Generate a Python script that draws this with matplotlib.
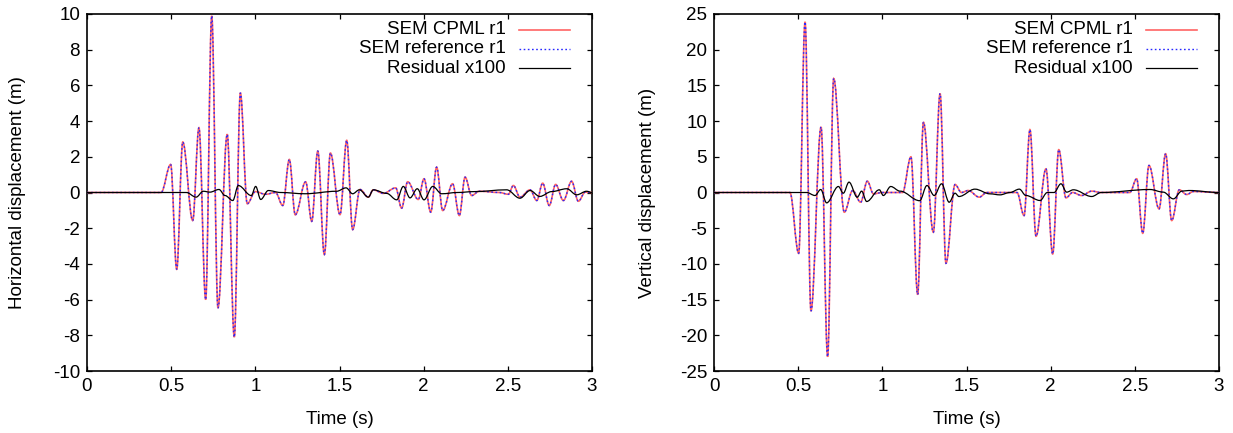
import matplotlib
matplotlib.use("Agg")
import matplotlib.pyplot as plt
from matplotlib.path import Path
from matplotlib.patches import PathPatch
from matplotlib.lines import Line2D
from matplotlib.ticker import FuncFormatter, MultipleLocator

plt.rcParams['font.family'] = ['Liberation Sans', 'DejaVu Sans']
plt.rcParams['axes.unicode_minus'] = False

# ---- data: extrema (time s, displacement m) ----
h_sem_t = [0, 0.44, 0.497, 0.533, 0.569, 0.628, 0.665, 0.705, 0.741, 0.778, 0.833, 0.875,
           0.911, 0.952, 1.00, 1.06, 1.12, 1.163, 1.202, 1.237, 1.299, 1.335, 1.371, 1.41,
           1.446, 1.503, 1.543, 1.578, 1.622, 1.671, 1.701, 1.76, 1.834, 1.869, 1.905, 1.968,
           2.002, 2.042, 2.077, 2.113, 2.172, 2.212, 2.246, 2.285, 2.33, 2.45, 2.503, 2.533,
           2.572, 2.632, 2.672, 2.707, 2.746, 2.784, 2.83, 2.879, 2.919, 2.96, 3.0]
h_sem_v = [0, 0, 1.57, -4.3, 2.83, -1.57, 3.63, -6.0, 9.9, -6.47, 3.26, -8.1,
           5.58, -0.63, 0.05, -0.1, 0.0, -0.73, 1.85, -1.25, 0.6, -1.62, 2.32, -3.48,
           2.21, -1.24, 2.92, -2.08, 0.17, -0.26, 0.15, -0.05, 0.26, -0.88, 0.6, -0.39,
           0.77, -1.1, 1.42, -1.01, 0.49, -1.29, 0.86, -0.17, 0.07, 0.0, -0.1, 0.39,
           -0.26, 0.15, -0.45, 0.52, -0.73, 0.45, -0.45, 0.63, -0.49, 0.02, 0.0]

h_res_t = [0, 0.59, 0.648, 0.691, 0.73, 0.784, 0.82, 0.866, 0.899, 0.976, 1.002, 1.032,
           1.077, 1.15, 1.295, 1.483, 1.539, 1.578, 1.618, 1.671, 1.701, 1.78, 1.84, 1.879,
           1.919, 1.962, 2.002, 2.054, 2.107, 2.2, 2.3, 2.493, 2.572, 2.632, 2.69, 2.76,
           2.85, 2.909, 2.968, 3.0]
h_res_v = [0, 0, -0.26, 0.07, 0.02, 0.17, -0.17, -0.45, 0.39, -0.17, 0.34, -0.39,
           0.11, 0.0, -0.07, 0.07, 0.26, -0.07, 0.15, -0.26, 0.15, -0.05, -0.41, 0.34,
           -0.3, 0.21, -0.41, 0.34, -0.07, 0.0, 0.05, 0.15, -0.32, 0.11, -0.22, 0.05,
           0.21, -0.13, 0.07, 0.0]

v_sem_t = [0, 0.451, 0.503, 0.541, 0.576, 0.636, 0.675, 0.711, 0.774, 0.824, 0.871, 0.911,
           0.947, 1.0, 1.12, 1.170, 1.210, 1.244, 1.303, 1.343, 1.378, 1.432, 1.47, 1.51,
           1.576, 1.62, 1.80, 1.842, 1.877, 1.913, 1.972, 2.012, 2.048, 2.091, 2.13, 2.184,
           2.244, 2.3, 2.47, 2.511, 2.547, 2.584, 2.644, 2.683, 2.719, 2.764, 2.808, 2.848,
           3.0]
v_sem_v = [0, 0, -8.52, 23.9, -16.6, 9.17, -23.0, 15.97, -2.76, 0.28, -1.36, 1.59,
           -0.19, 0.0, 0.0, 5.0, -14.3, 9.85, -5.57, 13.86, -9.92, 1.12, 0.0, 0.28,
           -0.65, 0.0, 0.0, -3.23, 8.8, -6.13, 3.32, -8.61, 6.0, -0.75, 0.0, -0.42,
           0.19, 0.0, 0.0, 1.92, -5.71, 3.79, -2.29, 5.43, -3.93, 0.38, -0.28, 0.14,
           0.0]

v_res_t = [0, 0.55, 0.60, 0.634, 0.669, 0.739, 0.768, 0.802, 0.851, 0.877, 0.907, 0.982,
           1.006, 1.05, 1.105, 1.222, 1.265, 1.308, 1.352, 1.397, 1.432, 1.455, 1.55, 1.64,
           1.699, 1.758, 1.814, 1.853, 1.937, 1.98, 2.02, 2.061, 2.095, 2.135, 2.244, 2.3,
           2.59, 2.669, 2.729, 2.779, 2.82, 3.0]
v_res_v = [0, 0, -0.42, 0.42, -1.45, 0.84, -0.1, 1.45, -0.66, 0.19, -1.26, 0.38,
           -0.42, 0.84, 0.19, -1.15, 0.98, -0.42, 1.22, -1.36, -0.1, -0.56, 0.47, -0.19,
           -0.33, 0.0, 0.47, -0.42, -1.12, 0.0, 0.0, 1.22, 0.05, 0.38, -0.56, 0.0,
           0.42, 0.05, -0.89, 0.19, 0.28, 0.0]

x_ticks = [0, 0.5, 1, 1.5, 2, 2.5, 3]
legend_labels = ["SEM CPML r1", "SEM reference r1", "Residual x100"]


def wave_path(t, v):
    verts = [(t[0], v[0])]
    codes = [Path.MOVETO]
    for i in range(1, len(t)):
        dt = t[i] - t[i - 1]
        verts += [(t[i - 1] + dt * 0.36, v[i - 1]), (t[i] - dt * 0.36, v[i]), (t[i], v[i])]
        codes += [Path.CURVE4] * 3
    return Path(verts, codes)


W, H = 1233, 433
fig = plt.figure(figsize=(W / 100, H / 100), dpi=100)

FS = 13.5
RED = '#ff6464'
BLUE = '#2828ff'
DOT = (0, (1.2, 1.8))
panels = [
    (87, h_sem_t, h_sem_v, h_res_t, h_res_v, (-10, 10), 2, "Horizontal displacement (m)", 69),
    (714, v_sem_t, v_sem_v, v_res_t, v_res_v, (-25, 25), 5, "Vertical displacement (m)", 67),
]
for left, st, sv, rt, rv, ylim, ystep, ylab, lab_off in panels:
    ax = fig.add_axes([left / W, (H - 371) / H, 505 / W, 357 / H])
    ax.set_xlim(0, 3)
    ax.set_ylim(*ylim)
    ax.add_patch(PathPatch(wave_path(st, sv), fill=False, edgecolor=RED, lw=1.2, zorder=3))
    ax.add_patch(PathPatch(wave_path(st, sv), fill=False, edgecolor=BLUE, lw=1.0,
                           linestyle=DOT, zorder=4))
    ax.add_patch(PathPatch(wave_path(rt, rv), fill=False, edgecolor='black', lw=0.9, zorder=5))

    ax.set_xticks(x_ticks)
    ax.yaxis.set_major_locator(MultipleLocator(ystep))
    ax.xaxis.set_major_formatter(FuncFormatter(lambda x, p: '%g' % x))
    ax.yaxis.set_major_formatter(FuncFormatter(lambda x, p: '%g' % x))
    ax.tick_params(direction='in', top=True, right=True, length=3.6, width=0.9,
                   labelsize=FS, pad=5)
    for s in ax.spines.values():
        s.set_linewidth(1.2)
    ax.set_xlabel("Time (s)", fontsize=FS, va='center')
    ax.xaxis.set_label_coords(0.5, (371 - 419) / 357)
    ax.set_ylabel(ylab, fontsize=FS, va='center')
    ax.yaxis.set_label_coords(-lab_off / 505, 0.5)

    # legend (gnuplot style: label right-aligned, sample to its right)
    styles = [dict(color=RED, lw=1.2),
              dict(color=BLUE, lw=1.0, linestyle=DOT),
              dict(color='black', lw=0.9)]
    for i, (lab, sty) in enumerate(zip(legend_labels, styles)):
        yy = (371 - (29.5 + 19.3 * i)) / 357
        ax.text(0.829, yy, lab, transform=ax.transAxes, ha='right', va='center', fontsize=FS)
        ax.add_line(Line2D([0.855, 0.956], [yy, yy], transform=ax.transAxes, **sty))

fig.savefig("out.png", dpi=100)
